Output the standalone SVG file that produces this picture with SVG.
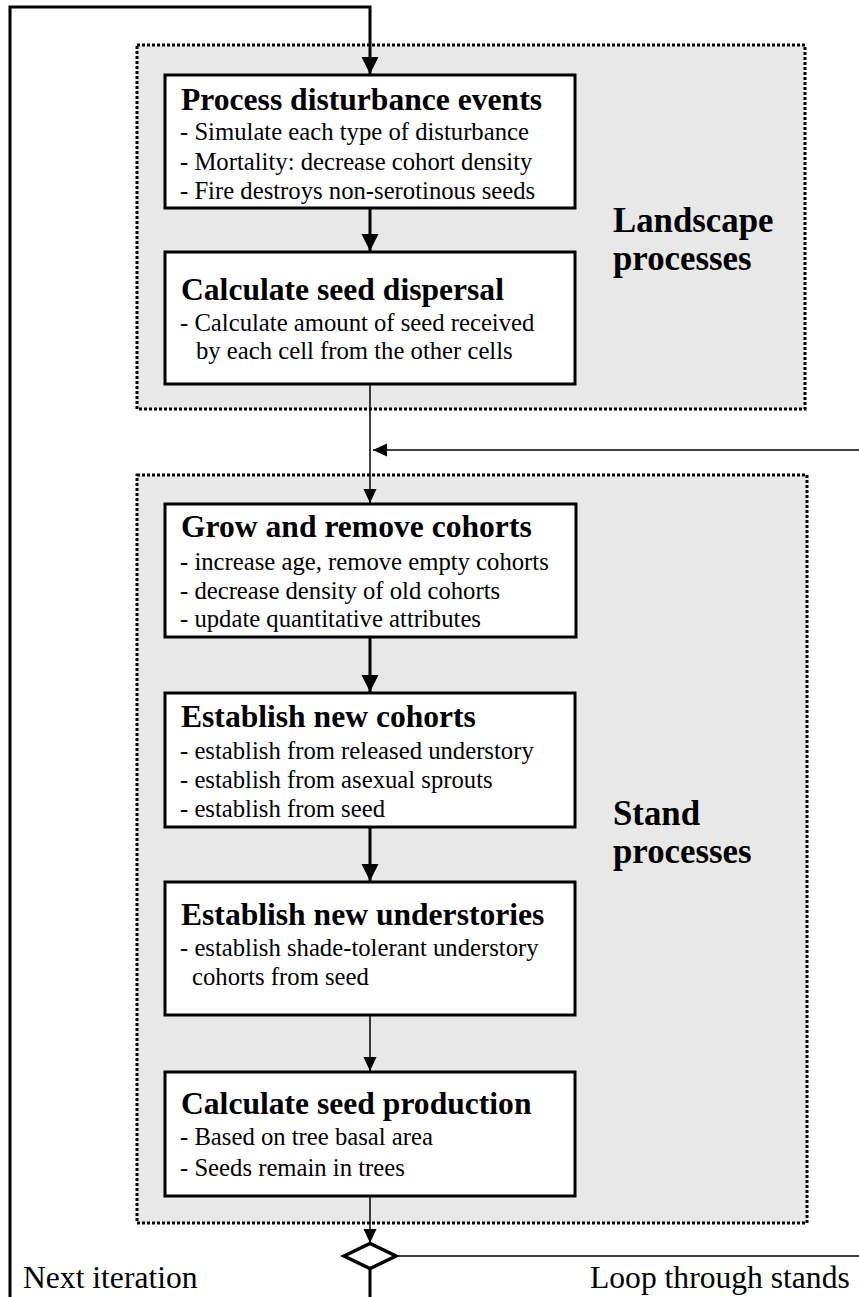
<svg xmlns="http://www.w3.org/2000/svg" width="859" height="1297" viewBox="0 0 859 1297">
<style>
.grp{fill:#e8e8e8;stroke:#000;stroke-width:3;stroke-dasharray:3 2}
.box{fill:#fff;stroke:#000;stroke-width:3}
.ttl{font-family:"Liberation Serif","Times New Roman",serif;font-weight:bold;font-size:31.6px;fill:#000}
.txt{font-family:"Liberation Serif","Times New Roman",serif;font-size:24.7px;fill:#000}
.lbl{font-family:"Liberation Serif","Times New Roman",serif;font-weight:bold;font-size:34.8px;fill:#000}
.note{font-family:"Liberation Serif","Times New Roman",serif;font-size:31.6px;fill:#000}
.thick{fill:none;stroke:#000;stroke-width:3}
.thin{fill:none;stroke:#000;stroke-width:1.5}
</style>
<defs>
<marker id="ah" markerUnits="userSpaceOnUse" markerWidth="18" markerHeight="18" refX="17" refY="8.5" orient="auto">
<path d="M0,0 L17,8.5 L0,17 Z" fill="#000"/>
</marker>
<marker id="as" markerUnits="userSpaceOnUse" markerWidth="15" markerHeight="14" refX="14" refY="6.5" orient="auto">
<path d="M0,0 L14,6.5 L0,13 Z" fill="#000"/>
</marker>
</defs>
<g id="landscape-group">
<rect class="grp" x="137" y="45" width="668" height="364"/>
<text class="lbl" x="613" y="232">Landscape</text>
<text class="lbl" x="613" y="270">processes</text>
</g>
<g id="stand-group">
<rect class="grp" x="137" y="475" width="670" height="748"/>
<text class="lbl" x="613" y="825">Stand</text>
<text class="lbl" x="613" y="863">processes</text>
</g>
<g id="connectors">
<path class="thick" d="M10,1297 V7 H370 V74" marker-end="url(#ah)"/>
<path class="thick" d="M370,1268 V1297"/>
<path class="thick" d="M370,208 V251" marker-end="url(#ah)"/>
<path class="thin" d="M370,384 V503" marker-end="url(#as)"/>
<path class="thin" d="M859,450 H373" marker-end="url(#as)"/>
<path class="thick" d="M370,637 V692" marker-end="url(#ah)"/>
<path class="thick" d="M370,827 V881" marker-end="url(#ah)"/>
<path class="thin" d="M370,1015 V1071" marker-end="url(#as)"/>
<path class="thin" d="M370,1196 V1243" marker-end="url(#as)"/>
<path class="thin" d="M396,1256 H859" stroke="#444"/>
</g>
<g id="decision">
<path d="M344,1256 L370,1243.5 L396,1256 L370,1268.5 Z" fill="#fff" stroke="#000" stroke-width="3.5" stroke-linejoin="miter"/>
</g>
<g id="n1">
<rect class="box" x="165" y="75" width="410" height="133"/>
<text class="ttl" x="181" y="110">Process disturbance events</text>
<text class="txt" x="180" y="140">- Simulate each type of disturbance</text>
<text class="txt" x="180" y="170">- Mortality: decrease cohort density</text>
<text class="txt" x="180" y="199">- Fire destroys non-serotinous seeds</text>
</g>
<g id="n2">
<rect class="box" x="165" y="252" width="410" height="132"/>
<text class="ttl" x="181" y="300">Calculate seed dispersal</text>
<text class="txt" x="180" y="331">- Calculate amount of seed received</text>
<text class="txt" x="196" y="359">by each cell from the other cells</text>
</g>
<g id="n3">
<rect class="box" x="165" y="504" width="411" height="133"/>
<text class="ttl" x="181" y="537">Grow and remove cohorts</text>
<text class="txt" x="180" y="570">- increase age, remove empty cohorts</text>
<text class="txt" x="180" y="599">- decrease density of old cohorts</text>
<text class="txt" x="180" y="627">- update quantitative attributes</text>
</g>
<g id="n4">
<rect class="box" x="165" y="693" width="410" height="134"/>
<text class="ttl" x="181" y="727">Establish new cohorts</text>
<text class="txt" x="180" y="759">- establish from released understory</text>
<text class="txt" x="180" y="788">- establish from asexual sprouts</text>
<text class="txt" x="180" y="817">- establish from seed</text>
</g>
<g id="n5">
<rect class="box" x="165" y="882" width="410" height="133"/>
<text class="ttl" x="181" y="925">Establish new understories</text>
<text class="txt" x="180" y="956">- establish shade-tolerant understory</text>
<text class="txt" x="192" y="985">cohorts from seed</text>
</g>
<g id="n6">
<rect class="box" x="165" y="1072" width="410" height="124"/>
<text class="ttl" x="181" y="1114">Calculate seed production</text>
<text class="txt" x="180" y="1145">- Based on tree basal area</text>
<text class="txt" x="180" y="1176">- Seeds remain in trees</text>
</g>
<g id="labels">
<text class="note" x="23" y="1288">Next iteration</text>
<text class="note" x="590" y="1288">Loop through stands</text>
</g>
</svg>
